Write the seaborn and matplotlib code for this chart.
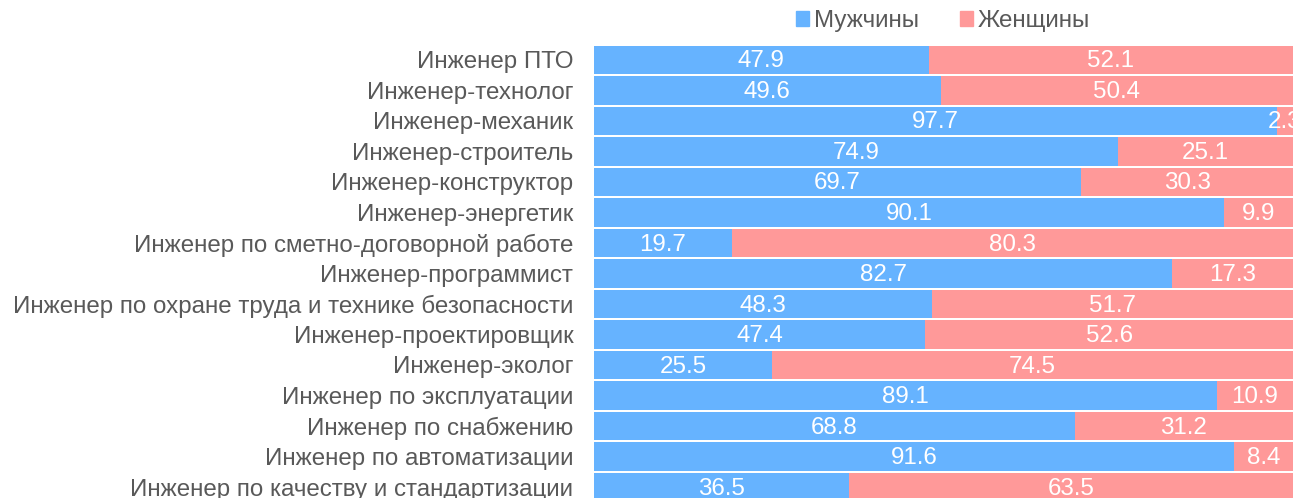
import pandas as pd
import seaborn as sns
import matplotlib.pyplot as plt
from matplotlib.patches import Patch

professions = [
    "Инженер ПТО",
    "Инженер-технолог",
    "Инженер-механик",
    "Инженер-строитель",
    "Инженер-конструктор",
    "Инженер-энергетик",
    "Инженер по сметно-договорной работе",
    "Инженер-программист",
    "Инженер по охране труда и технике безопасности",
    "Инженер-проектировщик",
    "Инженер-эколог",
    "Инженер по эксплуатации",
    "Инженер по снабжению",
    "Инженер по автоматизации",
    "Инженер по качеству и стандартизации",
]
men = [47.9, 49.6, 97.7, 74.9, 69.7, 90.1, 19.7, 82.7, 48.3, 47.4, 25.5, 89.1, 68.8, 91.6, 36.5]
women = [52.1, 50.4, 2.3, 25.1, 30.3, 9.9, 80.3, 17.3, 51.7, 52.6, 74.5, 10.9, 31.2, 8.4, 63.5]

blue = "#66b3ff"
pink = "#ff9999"
fs = 17.4

df = pd.DataFrame({"prof": professions, "men": men, "women": women})
df["total"] = df["men"] + df["women"]

sns.set_theme(style="white")
plt.rcParams["font.family"] = ["Liberation Sans", "DejaVu Sans"]

fig = plt.figure(figsize=(13.01, 4.98), dpi=100)
ax = fig.add_axes([594 / 1301, 0, 699 / 1301, 1 - 45 / 498])

sns.barplot(data=df, x="total", y="prof", color=pink, width=0.93,
            saturation=1, orient="h", ax=ax, linewidth=0)
sns.barplot(data=df, x="men", y="prof", color=blue, width=0.93,
            saturation=1, orient="h", ax=ax, linewidth=0)

for i, (m, w) in enumerate(zip(men, women)):
    ax.text(m / 2, i + 0.05, f"{m:.1f}", ha="center", va="center", color="white", fontsize=fs)
    ax.text(m + w / 2, i + 0.05, f"{w:.1f}", ha="center", va="center", color="white", fontsize=fs)

ax.set_xlim(0, 100)
ax.set_ylim(14.36, -0.49)
ax.set_xlabel("")
ax.set_ylabel("")
ax.set_xticks([])
ax.tick_params(axis="y", length=0, pad=15, labelsize=fs, labelcolor="#595959")
for s in ax.spines.values():
    s.set_visible(False)

fig.legend(handles=[Patch(color=blue, label="Мужчины"), Patch(color=pink, label="Женщины")],
           loc="center", bbox_to_anchor=(943 / 1301, 1 - 21 / 498), ncol=2, frameon=False,
           fontsize=fs, handlelength=0.55, handleheight=0.55, handletextpad=0.2,
           columnspacing=1.7, labelcolor="#595959")

fig.savefig("out.png", dpi=100)
